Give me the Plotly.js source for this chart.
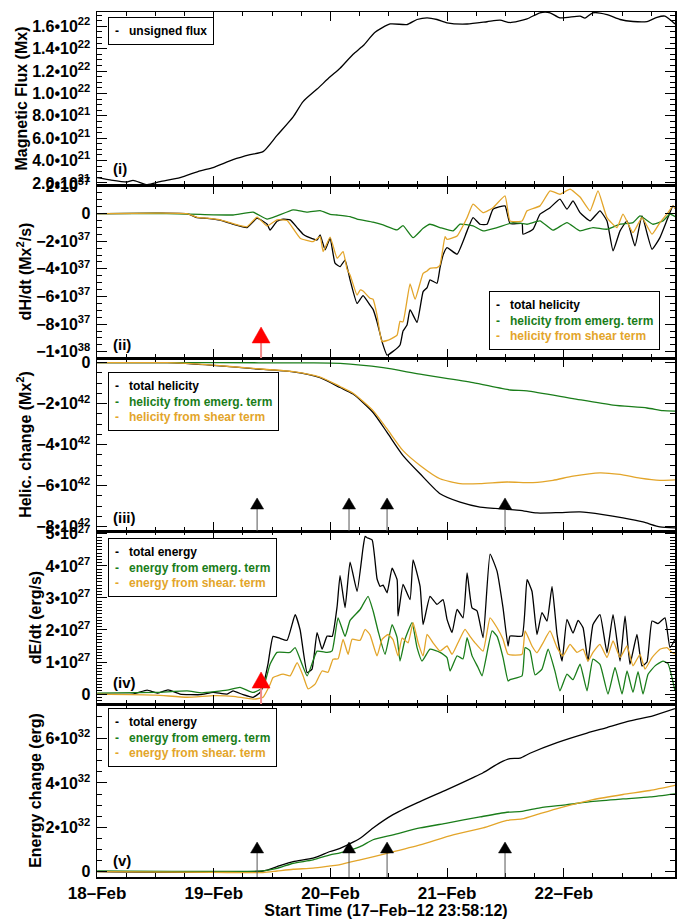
<!DOCTYPE html>
<html><head><meta charset="utf-8">
<script src="https://cdn.plot.ly/plotly-3.0.1.min.js"></script>
<style>html,body{margin:0;padding:0;background:#fff}</style>
</head><body>
<div id="chart" style="width:678px;height:919px"></div>
<script>
// ---------- DATA (time in days since 18-Feb-2012 00:00) ----------
// Panel (i): unsigned magnetic flux, in units of 1e21 Mx
const fluxTime = [0,0.111,0.257,0.308,0.428,0.54,0.711,0.883,0.994,1.165,1.311,1.422,1.542,1.68,1.765,1.885,1.997,2.082,2.194,2.279,2.382,2.511,2.656,2.742,2.828,2.913,2.999,3.171,3.342,3.453,3.539,3.685,3.796,3.882,3.967,4.139,4.182,4.25,4.37,4.482,4.593,4.713,4.799,4.867,4.953];
const fluxVal  = [2.48,2.27,2.09,2.24,1.85,2.12,2.48,3.09,3.38,4.08,4.53,4.8,6.25,7.91,9.27,10.39,11.48,12.25,13.5,14.25,15.46,16.2,16.15,16.6,16.75,16.6,16.3,16.2,16.4,16.54,16.33,16.66,17.2,17.2,16.75,16.9,16.73,17.2,17.04,16.6,16.42,16.42,16.8,16.9,16.2];

// Panel (ii): helicity injection rate, units of 1e37 Mx^2/s
const dhTotTime = [0,0.771,0.857,0.943,1.054,1.165,1.285,1.371,1.457,1.482,1.542,1.594,1.654,1.714,1.765,1.8,1.885,1.911,1.954,1.997,2.039,2.082,2.125,2.168,2.228,2.279,2.339,2.365,2.399,2.442,2.485,2.536,2.596,2.622,2.656,2.682,2.742,2.794,2.828,2.853,2.913,2.939,2.965,2.999,3.085,3.171,3.222,3.282,3.342,3.393,3.496,3.539,3.642,3.65,3.736,3.796,3.882,3.967,4.027,4.079,4.139,4.225,4.31,4.37,4.422,4.482,4.542,4.61,4.67,4.756,4.824,4.893,4.936,4.97];
const dhTotVal  = [0,0,-0.29,-0.35,-0.48,-0.77,-1.01,-0.33,-0.77,-1.2,-0.55,-0.41,-0.45,-1.01,-1.49,-1.67,-1.91,-1.54,-2.63,-1.78,-3.59,-3.84,-3.36,-4.8,-6.5,-5.93,-6.62,-6.93,-7.83,-9.27,-10.24,-9.97,-9.51,-8.5,-8.06,-6.95,-7.87,-5.65,-5.36,-4.8,-5.04,-3.91,-2.99,-2.46,-2.94,-1.25,-0.29,-0.77,-0.77,0.32,0.56,-0.72,-0.72,-1.49,-1.13,-0.04,0.43,1.04,0.32,0.92,0.07,-0.53,0.2,-0.53,-2.7,-1.25,-0.53,-2.34,-0.17,-2.58,-1.74,-0.29,0.56,0.2];
const dhEmTime = [0,0.5,0.883,1.165,1.337,1.457,1.542,1.68,1.8,1.911,1.997,2.057,2.168,2.228,2.365,2.451,2.571,2.622,2.708,2.794,2.853,2.939,3.051,3.111,3.222,3.308,3.428,3.565,3.685,3.796,3.907,4.027,4.139,4.25,4.37,4.482,4.593,4.653,4.764,4.85,4.91,4.97];
const dhEmVal  = [0,0.02,-0.06,-0.1,0.1,-0.4,-0.17,0.27,0.1,0.22,-0.05,-0.1,-0.22,-0.4,-0.62,-0.82,-1.18,-0.87,-1.74,-1.06,-0.77,-1.01,-1.25,-0.77,-0.89,-1.25,-1.01,-0.65,-0.77,-0.53,-1.2,-0.65,-1.25,-1.01,-1.13,-0.77,-0.65,-0.17,-0.77,-0.53,-0.04,-0.3];
const dhShTime = [0,0.771,0.857,0.943,1.054,1.165,1.285,1.371,1.457,1.542,1.628,1.74,1.851,1.911,1.937,1.997,2.057,2.108,2.142,2.168,2.228,2.254,2.279,2.339,2.365,2.399,2.442,2.511,2.571,2.596,2.622,2.682,2.725,2.794,2.828,2.853,2.913,2.939,2.982,2.999,3.085,3.171,3.222,3.308,3.393,3.496,3.539,3.642,3.685,3.796,3.882,3.967,4.053,4.139,4.225,4.293,4.37,4.456,4.507,4.593,4.67,4.756,4.824,4.893,4.936,4.97];
const dhShVal  = [0,0,-0.27,-0.33,-0.45,-0.72,-0.95,-0.25,-0.9,-0.45,-0.5,-1.78,-2.03,-1.67,-2.75,-1.7,-3.23,-2.75,-4.03,-4.44,-5.9,-5.53,-5.6,-6.13,-6.2,-7.34,-9.25,-9.1,-8.79,-7.8,-7.83,-5.08,-6.2,-4.32,-4.15,-3.96,-3.91,-3.72,-1.67,-1.86,-1.62,-0.29,0.68,0.07,0.43,1.28,-0.53,-0.53,0.2,0.56,1.64,1.4,1.77,1.2,0.2,1.64,-0.29,-1.01,-0.04,-1.38,-0.29,-1.49,-0.65,0.07,0.56,0.2];

// Panel (iii): accumulated helicity, units of 1e42 Mx^2
const hTotTime = [0,0.6,0.994,1.337,1.68,1.911,2.082,2.194,2.365,2.485,2.622,2.768,2.939,3.111,3.282,3.513,3.625,3.77,3.967,4.139,4.336,4.507,4.679,4.824,4.953];
const hTotVal  = [0,0,-0.13,-0.29,-0.45,-0.73,-1.21,-1.53,-2.43,-3.4,-4.53,-5.42,-6.39,-6.8,-7.04,-7.15,-7.2,-7.33,-7.31,-7.28,-7.41,-7.57,-7.77,-8.01,-8.06];
const hEmTime = [0,1.0,1.8,2.082,2.451,2.768,3.222,3.539,3.685,4.079,4.422,4.713,4.85,4.953];
const hEmVal  = [0,0,-0.01,-0.03,-0.24,-0.56,-0.97,-1.33,-1.37,-1.75,-2.07,-2.21,-2.34,-2.36];
const hShTime = [0,0.6,0.994,1.337,1.68,1.911,2.082,2.194,2.365,2.485,2.622,2.768,2.939,3.111,3.282,3.513,3.736,3.907,4.079,4.31,4.482,4.653,4.824,4.953];
const hShVal  = [0,0,-0.12,-0.28,-0.43,-0.7,-1.16,-1.49,-2.34,-3.23,-4.29,-5.01,-5.66,-5.9,-5.9,-5.82,-5.85,-5.74,-5.53,-5.37,-5.45,-5.63,-5.74,-5.72];

// Panel (iv): energy injection rate, units of 1e27 erg/s
const deTotTime = [0,0.308,0.428,0.514,0.608,0.711,0.883,0.994,1.114,1.165,1.251,1.337,1.397,1.422,1.465,1.508,1.568,1.628,1.697,1.74,1.8,1.842,1.885,1.928,1.971,2.014,2.057,2.082,2.125,2.168,2.228,2.279,2.297,2.314,2.357,2.399,2.425,2.451,2.485,2.528,2.571,2.579,2.622,2.682,2.708,2.768,2.794,2.853,2.913,2.965,2.999,3.042,3.085,3.136,3.171,3.213,3.256,3.308,3.368,3.428,3.479,3.522,3.539,3.642,3.685,3.727,3.77,3.813,3.856,3.899,3.942,3.985,4.027,4.079,4.122,4.165,4.207,4.25,4.31,4.37,4.422,4.482,4.525,4.567,4.627,4.67,4.713,4.756,4.807,4.867,4.91,4.953];
const deTotVal  = [0,0,0.12,0.03,0.13,0,-0.02,0.05,0,0.1,-0.02,-0.1,0.05,0.25,0.95,1.8,1.74,1.68,2.48,2.0,0.67,0.78,1.92,1.4,1.81,1.8,2.74,3.7,2.7,4.12,3.21,4.56,4.92,4.88,4.81,3.6,3.36,3.4,3.16,3.93,3.57,2.43,3.42,2.95,4.19,3.36,2.17,3.05,2.8,2.95,2.33,1.92,2.64,2.38,3.78,2.69,2.6,1.76,4.37,3.83,2.69,1.5,1.81,1.81,3.57,3.21,1.86,2.54,2.28,3.36,1.86,1.03,2.33,1.9,2.3,2.07,1.03,2.17,2.48,1.29,2.48,1.03,2.43,0.93,1.86,0.88,1.0,2.28,2.2,2.38,1.45,1.7];
const deEmTime = [0,0.5,0.771,0.9,1.114,1.225,1.337,1.422,1.482,1.542,1.654,1.697,1.8,1.885,1.971,2.014,2.065,2.125,2.168,2.254,2.322,2.365,2.408,2.468,2.528,2.571,2.596,2.639,2.699,2.742,2.785,2.853,2.939,2.999,3.025,3.085,3.136,3.171,3.213,3.265,3.299,3.385,3.428,3.479,3.522,3.539,3.642,3.668,3.71,3.753,3.813,3.865,3.925,3.967,4.027,4.079,4.139,4.199,4.25,4.31,4.379,4.439,4.499,4.542,4.593,4.636,4.679,4.722,4.782,4.85,4.893,4.953];
const deEmVal  = [0.03,0.05,0.1,0.04,0.12,0.21,0.05,0.2,0.93,1.3,1.3,1.45,0.57,1.34,1.3,1.35,2.38,1.8,2.3,2.64,3.05,2.6,1.97,1.24,2.17,1.76,1.03,1.71,2.23,1.45,1.03,1.4,1.3,1.14,0.72,1.19,1.1,1.76,1.2,0.83,0.57,1.97,1.8,1.14,0.41,0.45,0.57,1.45,1.35,0.6,0.78,1.4,0.7,0.1,0.62,0.45,0.93,0.1,1.09,0.93,0,0.83,0,0.72,0.05,0.7,0,0.62,0.88,1.03,0.95,0.1];
const deShTime = [0,0.5,0.771,1.0,1.165,1.337,1.422,1.482,1.508,1.594,1.654,1.714,1.765,1.808,1.868,1.928,1.979,2.022,2.065,2.108,2.151,2.185,2.254,2.297,2.339,2.399,2.442,2.494,2.536,2.579,2.614,2.665,2.708,2.751,2.794,2.828,2.879,2.939,2.999,3.042,3.093,3.153,3.196,3.239,3.308,3.368,3.428,3.479,3.522,3.642,3.668,3.727,3.77,3.822,3.882,3.942,3.993,4.053,4.113,4.165,4.207,4.25,4.31,4.37,4.422,4.482,4.542,4.593,4.653,4.696,4.756,4.824,4.884,4.927,4.953];
const deShVal  = [0,-0.03,-0.1,-0.05,-0.07,-0.16,-0.1,0.3,0.52,0.62,0.57,0.98,0.57,0.16,0.31,0.72,0.68,1.09,1.1,1.71,1.24,1.71,1.68,2.02,1.85,1.19,1.71,1.86,1.7,1.19,1.75,1.6,2.23,1.61,1.19,1.86,1.6,1.34,1.5,1.24,1.6,2.02,1.8,1.6,1.34,2.38,2.07,1.71,1.24,1.24,1.97,1.5,1.29,1.6,1.97,1.45,1.19,1.55,1.3,1.4,1.03,1.3,1.55,1.14,1.66,1.14,1.5,0.88,1.24,0.78,1.14,1.4,1.45,1.3,1.25];

// Panel (v): accumulated energy, units of 1e32 erg
const eTotTime = [0,1.422,1.542,1.68,1.851,1.997,2.082,2.254,2.365,2.536,2.742,2.999,3.222,3.308,3.453,3.539,3.625,3.71,3.942,4.199,4.37,4.567,4.764,4.953];
const eTotVal  = [0,0.03,0.23,0.45,0.61,0.91,1.05,1.51,1.97,2.57,3.1,3.7,4.24,4.46,4.92,5.1,5.12,5.34,5.82,6.25,6.5,6.8,7.03,7.35];
const eEmTime = [0,1.422,1.542,1.68,1.851,1.997,2.082,2.254,2.365,2.536,2.768,2.999,3.282,3.513,3.642,3.796,4.027,4.25,4.507,4.739,4.953];
const eEmVal  = [0.03,0.04,0.15,0.38,0.53,0.76,0.85,1.13,1.44,1.66,1.97,2.19,2.47,2.68,2.72,2.88,3.02,3.17,3.28,3.37,3.51];
const eShTime = [0,0.994,1.422,1.542,1.68,1.851,1.997,2.082,2.254,2.485,2.768,3.051,3.308,3.513,3.642,3.796,3.967,4.25,4.507,4.739,4.953];
const eShVal  = [0,-0.03,-0.04,0.03,0.11,0.16,0.26,0.32,0.53,0.83,1.21,1.66,1.97,2.31,2.38,2.62,2.88,3.25,3.48,3.66,3.89];

// Event markers (days since 18-Feb 00:00)
const blackEventTimes = [1.371, 2.159, 2.485, 3.496];
const redEventTimes = [1.405];

// Tick labels
const dayTickVals = [0,1,2,3,4];
const dayTickText = ['18–Feb','19–Feb','20–Feb','21–Feb','22–Feb'];
const fluxTickVals = [2,4,6,8,10,12,14,16];
const fluxTickText = ['2.0•10<sup>21</sup>','4.0•10<sup>21</sup>','6.0•10<sup>21</sup>','8.0•10<sup>21</sup>','1.0•10<sup>22</sup>','1.2•10<sup>22</sup>','1.4•10<sup>22</sup>','1.6•10<sup>22</sup>'];
const dhTickVals = [2,0,-2,-4,-6,-8,-10];
const dhTickText = ['2•10<sup>37</sup>','0','−2•10<sup>37</sup>','−4•10<sup>37</sup>','−6•10<sup>37</sup>','−8•10<sup>37</sup>','−1•10<sup>38</sup>'];
const hTickVals = [0,-2,-4,-6,-8];
const hTickText = ['0','−2•10<sup>42</sup>','−4•10<sup>42</sup>','−6•10<sup>42</sup>','−8•10<sup>42</sup>'];
const deTickVals = [0,1,2,3,4,5];
const deTickText = ['0','1•10<sup>27</sup>','2•10<sup>27</sup>','3•10<sup>27</sup>','4•10<sup>27</sup>','5•10<sup>27</sup>'];
const eTickVals = [0,2,4,6];
const eTickText = ['0','2•10<sup>32</sup>','4•10<sup>32</sup>','6•10<sup>32</sup>'];

// ---------- STYLE / LAYOUT ----------
const FONT = 'Liberation Sans, Arial, Helvetica, sans-serif';
const BLACK = '#000000', GREEN = '#1a7d1a', GOLD = '#e3a52a';
const W = 678, H = 919, L = 97, R = 3, T = 12, B = 42;
const pw = W - L - R, ph = H - T - B;
const px2x = p => (p - L) / pw;
const py2y = p => (H - B - p) / ph;
const bold = s => '<b>' + s + '</b>';

function ax(k){ return k === 1 ? '' : String(k); }
function tr(t, v, color, k, smooth){
  const ln = {color:color, width:1.3, shape:'spline', smoothing:smooth};
  return {x:t, y:v, type:'scatter', mode:'lines', line:ln,
          xaxis:'x'+ax(k), yaxis:'y'+ax(k), showlegend:false, hoverinfo:'skip'};
}

const data = [
  tr(fluxTime, fluxVal, BLACK, 1, 0.6),
  tr(dhTotTime, dhTotVal, BLACK, 2, 0.4), tr(dhEmTime, dhEmVal, GREEN, 2, 0.4), tr(dhShTime, dhShVal, GOLD, 2, 0.4),
  tr(hTotTime, hTotVal, BLACK, 3, 0.6), tr(hEmTime, hEmVal, GREEN, 3, 0.6), tr(hShTime, hShVal, GOLD, 3, 0.6),
  tr(deTotTime, deTotVal, BLACK, 4, 0.4), tr(deEmTime, deEmVal, GREEN, 4, 0.4), tr(deShTime, deShVal, GOLD, 4, 0.4),
  tr(eTotTime, eTotVal, BLACK, 5, 0.6), tr(eEmTime, eEmVal, GREEN, 5, 0.6), tr(eShTime, eShVal, GOLD, 5, 0.6)
];

const xRange = [-0.0013, 4.953];
const tickFont = {family:FONT, size:16, color:'#000'};
const titleFont = {family:FONT, size:16, color:'#000'};

const layout = {
  width:W, height:H, margin:{l:L, r:R, t:T, b:B}, paper_bgcolor:'#fff', plot_bgcolor:'#fff',
  showlegend:false, font:{family:FONT, color:'#000'}, shapes:[], annotations:[]
};

const yCfg = [
  {range:[1.82,17.27], vals:fluxTickVals, text:fluxTickText, minor:0.5, title:'Magnetic Flux (Mx)'},
  {range:[-10.45,2.07], vals:dhTickVals, text:dhTickText, minor:0.5, title:'dH/dt (Mx<sup>2</sup>/s)'},
  {range:[-8.21,0.23], vals:hTickVals, text:hTickText, minor:0.5, title:'Helic. change (Mx<sup>2</sup>)'},
  {range:[-0.31,5.09], vals:deTickVals, text:deTickText, minor:0.1, title:'dE/dt (erg/s)'},
  {range:[-0.24,7.56], vals:eTickVals, text:eTickText, minor:0.5, title:'Energy change (erg)'}
];

for (let k = 1; k <= 5; k++) {
  const c = yCfg[k-1];
  const dom = [(5-k)*0.2, (6-k)*0.2];
  layout['xaxis'+ax(k)] = {
    domain:[0,1], anchor:'y'+ax(k), range:xRange, tickmode:'array', tickvals:dayTickVals, ticktext:dayTickText.map(bold),
    showticklabels:k===5, ticks:'inside', ticklen:9, tickwidth:1, tickcolor:'#000',
    minor:{dtick:0.25, tick0:0, ticks:'inside', ticklen:4, tickwidth:1, tickcolor:'#000'},
    showline:true, linecolor:'#000', linewidth:1.5, mirror:'ticks', showgrid:false, zeroline:false,
    tickfont:{family:FONT, size:17, color:'#000'}, fixedrange:true
  };
  if (k === 5) layout['xaxis5'].title = {text:bold('Start Time (17–Feb–12 23:58:12)'), font:titleFont};
  layout['yaxis'+ax(k)] = {
    domain:dom, anchor:'x'+ax(k), range:c.range, tickmode:'array', tickvals:c.vals, ticktext:c.text.map(bold),
    ticks:'inside', ticklen:10, tickwidth:1, tickcolor:'#000',
    minor:{dtick:c.minor, tick0:0, ticks:'inside', ticklen:5, tickwidth:1, tickcolor:'#000'},
    showline:true, linecolor:'#000', linewidth:1.5, mirror:'ticks', showgrid:false, zeroline:false,
    tickfont:tickFont, ticklabelstandoff:2, fixedrange:true,
    title:{text:bold(c.title), font:titleFont}
  };
}

// Event arrows: triangle + stem, x from data, y in panel-domain fractions
function arrows(times, k, baseF, tipF, halfW, fill, stemColor, stemW){
  times.forEach(t => {
    layout.shapes.push({type:'line', xref:'x'+ax(k), yref:'y'+ax(k)+' domain', x0:t, x1:t, y0:0, y1:baseF,
      line:{color:stemColor, width:stemW}});
    layout.shapes.push({type:'path', xref:'x'+ax(k), yref:'y'+ax(k)+' domain',
      path:`M${t-halfW},${baseF} L${t+halfW},${baseF} L${t},${tipF} Z`,
      fillcolor:fill, line:{color:fill, width:0.5}});
  });
}
arrows(redEventTimes, 2, 0.087, 0.179, 0.077, '#ff0000', '#f08a8a', 2);
arrows(redEventTimes, 4, 0.092, 0.185, 0.077, '#ff0000', '#f08a8a', 2);
arrows(blackEventTimes, 3, 0.127, 0.191, 0.056, '#000000', '#555555', 1);
arrows(blackEventTimes, 5, 0.139, 0.202, 0.056, '#000000', '#555555', 1);

// Panel labels
const panelLabels = ['(i)','(ii)','(iii)','(iv)','(v)'];
const panelLabelY = [168, 344, 517, 682, 860];
panelLabels.forEach((s, i) => layout.annotations.push({
  text:bold(s), xref:'paper', yref:'paper', x:px2x(111), y:py2y(panelLabelY[i]), xanchor:'left', yanchor:'middle',
  showarrow:false, font:{family:FONT, size:15, color:'#000'}
}));

// Legend boxes
function legendBox(items, leftPx, topPx){
  const text = items.map(([lab, col]) => `<span style="color:${col}"><b>-\u00a0\u00a0\u00a0${lab}</b></span>`).join('<br>');
  layout.annotations.push({text, xref:'paper', yref:'paper', x:px2x(leftPx), y:py2y(topPx),
    xanchor:'left', yanchor:'top', align:'left', showarrow:false, bgcolor:'#fff',
    bordercolor:'#000', borderwidth:1, borderpad:6, font:{family:FONT, size:12, color:'#000'}});
}
legendBox([['unsigned flux', BLACK]], 108, 17);
legendBox([['total helicity', BLACK], ['helicity from emerg. term', GREEN], ['helicity from shear term', GOLD]], 489, 291);
legendBox([['total helicity', BLACK], ['helicity from emerg. term', GREEN], ['helicity from shear term', GOLD]], 108, 372);
legendBox([['total energy', BLACK], ['energy from emerg. term', GREEN], ['energy from shear. term', GOLD]], 108, 538);
legendBox([['total energy', BLACK], ['energy from emerg. term', GREEN], ['energy from shear. term', GOLD]], 108, 708);

Plotly.newPlot('chart', data, layout, {displayModeBar:false, staticPlot:true});
</script>
</body></html>
